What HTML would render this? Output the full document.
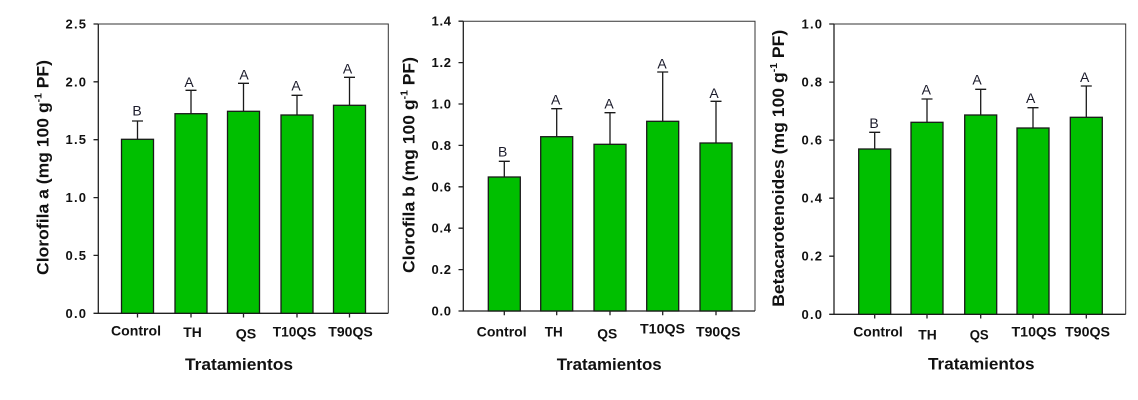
<!DOCTYPE html>
<html><head><meta charset="utf-8"><style>
html,body{margin:0;padding:0;background:#fff;}
svg{display:block;}
text{font-family:"Liberation Sans",Arial,sans-serif;fill:#111;}
.tk{font-size:13px;font-weight:bold;text-anchor:end;}
.xl{font-size:14px;font-weight:bold;text-anchor:middle;}
.tt{font-size:17px;font-weight:bold;text-anchor:middle;}
.lt{font-size:14px;text-anchor:middle;fill:#1a1a2a;}
.yt{font-size:17px;font-weight:bold;text-anchor:middle;}
.bar{fill:#00BF00;stroke:#1a1a1a;stroke-width:1.3;}
.ax{stroke:#222;stroke-width:1.3;fill:none;}
.fr{stroke:#333;stroke-width:1;fill:none;}
.eb{stroke:#1a1a1a;stroke-width:1.3;fill:none;}
</style></head><body>
<svg width="1138" height="400" viewBox="0 0 1138 400" xmlns="http://www.w3.org/2000/svg">
<!-- ============ Panel 1 ============ -->
<g>
<path class="fr" d="M98.3 24 H388.3 V313.3"/>
<path class="ax" d="M98.3 24 V313.3 H388.3"/>
<path class="ax" d="M93.5 313.3H98.3M93.5 255.4H98.3M93.5 197.6H98.3M93.5 139.7H98.3M93.5 81.8H98.3M93.5 24H98.3"/>
<text class="tk" x="86" y="317.8" textLength="20.5" lengthAdjust="spacing">0.0</text>
<text class="tk" x="86" y="259.9" textLength="20.5" lengthAdjust="spacing">0.5</text>
<text class="tk" x="86" y="202.1" textLength="20.5" lengthAdjust="spacing">1.0</text>
<text class="tk" x="86" y="144.2" textLength="20.5" lengthAdjust="spacing">1.5</text>
<text class="tk" x="86" y="86.3" textLength="20.5" lengthAdjust="spacing">2.0</text>
<text class="tk" x="86" y="28.5" textLength="20.5" lengthAdjust="spacing">2.5</text>
<rect class="bar" x="121.5" y="139.3" width="32" height="174"/>
<rect class="bar" x="175" y="113.7" width="32" height="199.6"/>
<rect class="bar" x="227.5" y="111.3" width="32" height="202"/>
<rect class="bar" x="281" y="115" width="32" height="198.3"/>
<rect class="bar" x="333.5" y="105.3" width="32" height="208"/>
<path class="eb" d="M137.5 139.3V121M132 121H143
M191 113.7V90.3M185.5 90.3H196.5
M243.5 111.3V83.3M238 83.3H249
M297 115V95.3M291.5 95.3H302.5
M349.5 105.3V77.3M344 77.3H355"/>
<path class="ax" d="M137.5 313.3V317.5M191 313.3V317.5M243.5 313.3V317.5M297 313.3V317.5M349.5 313.3V317.5"/>
<text class="lt" x="137" y="115.5">B</text>
<text class="lt" x="189" y="87">A</text>
<text class="lt" x="244" y="79.5">A</text>
<text class="lt" x="296" y="90.5">A</text>
<text class="lt" x="347.5" y="73.5">A</text>
<text class="xl" x="136" y="335.5" textLength="50" lengthAdjust="spacingAndGlyphs">Control</text>
<text class="xl" x="192.5" y="337" textLength="18.5" lengthAdjust="spacingAndGlyphs">TH</text>
<text class="xl" x="246" y="338.5" textLength="20.5" lengthAdjust="spacingAndGlyphs">QS</text>
<text class="xl" x="294.5" y="336.5" textLength="43.5" lengthAdjust="spacingAndGlyphs">T10QS</text>
<text class="xl" x="350.5" y="336.5" textLength="44.5" lengthAdjust="spacingAndGlyphs">T90QS</text>
<text class="tt" x="239" y="370" textLength="108" lengthAdjust="spacingAndGlyphs">Tratamientos</text>
<text class="yt" transform="translate(48.5 167.5) rotate(-90)" x="0" y="0" textLength="215" lengthAdjust="spacingAndGlyphs">Clorofila a (mg 100 g<tspan font-size="10" dy="-7">-1</tspan><tspan dy="7"> PF)</tspan></text>
</g>
<!-- ============ Panel 2 ============ -->
<g>
<path class="fr" d="M463.3 21.2 H755 V311"/>
<path class="ax" d="M463.3 21.2 V311 H755"/>
<path class="ax" d="M458.5 311H463.3M458.5 269.6H463.3M458.5 228.2H463.3M458.5 186.8H463.3M458.5 145.4H463.3M458.5 104H463.3M458.5 62.6H463.3M458.5 21.2H463.3"/>
<text class="tk" x="451" y="315.5" textLength="19.5" lengthAdjust="spacing">0.0</text>
<text class="tk" x="451" y="274.1" textLength="19.5" lengthAdjust="spacing">0.2</text>
<text class="tk" x="451" y="232.7" textLength="19.5" lengthAdjust="spacing">0.4</text>
<text class="tk" x="451" y="191.3" textLength="19.5" lengthAdjust="spacing">0.6</text>
<text class="tk" x="451" y="149.9" textLength="19.5" lengthAdjust="spacing">0.8</text>
<text class="tk" x="451" y="108.5" textLength="19.5" lengthAdjust="spacing">1.0</text>
<text class="tk" x="451" y="67.1" textLength="19.5" lengthAdjust="spacing">1.2</text>
<text class="tk" x="451" y="25.7" textLength="19.5" lengthAdjust="spacing">1.4</text>
<rect class="bar" x="488.3" y="177" width="32" height="134"/>
<rect class="bar" x="540.7" y="136.7" width="32" height="174.3"/>
<rect class="bar" x="594" y="144.3" width="32" height="166.7"/>
<rect class="bar" x="646.7" y="121.3" width="32" height="189.7"/>
<rect class="bar" x="700" y="143" width="32" height="168"/>
<path class="eb" d="M504.3 177V161.3M498.8 161.3H509.8
M556.7 136.7V108.7M551.2 108.7H562.2
M610 144.3V112.7M604.5 112.7H615.5
M662.7 121.3V72M657.2 72H668.2
M716 143V101.3M710.5 101.3H721.5"/>
<path class="ax" d="M504.3 311V315.2M556.7 311V315.2M610 311V315.2M662.7 311V315.2M716 311V315.2"/>
<text class="lt" x="502.7" y="156.5">B</text>
<text class="lt" x="555.7" y="104.5">A</text>
<text class="lt" x="609" y="108.5">A</text>
<text class="lt" x="662" y="68.5">A</text>
<text class="lt" x="714" y="98">A</text>
<text class="xl" x="501.7" y="336.5" textLength="50" lengthAdjust="spacingAndGlyphs">Control</text>
<text class="xl" x="553.8" y="336.5" textLength="18" lengthAdjust="spacingAndGlyphs">TH</text>
<text class="xl" x="607.3" y="338.5" textLength="20" lengthAdjust="spacingAndGlyphs">QS</text>
<text class="xl" x="662.5" y="333.5" textLength="45" lengthAdjust="spacingAndGlyphs">T10QS</text>
<text class="xl" x="718.3" y="336.5" textLength="44.5" lengthAdjust="spacingAndGlyphs">T90QS</text>
<text class="tt" x="609.2" y="370" textLength="105" lengthAdjust="spacingAndGlyphs">Tratamientos</text>
<text class="yt" transform="translate(414.3 165) rotate(-90)" x="0" y="0" textLength="216" lengthAdjust="spacingAndGlyphs">Clorofila b (mg 100 g<tspan font-size="10" dy="-7">-1</tspan><tspan dy="7"> PF)</tspan></text>
</g>
<!-- ============ Panel 3 ============ -->
<g>
<path class="fr" d="M834 24 H1125.7 V314.3"/>
<path class="ax" d="M834 24 V314.3 H1125.7"/>
<path class="ax" d="M829.2 314.3H834M829.2 256.2H834M829.2 198.2H834M829.2 140.1H834M829.2 82.1H834M829.2 24H834"/>
<text class="tk" x="822" y="318.8" textLength="20.5" lengthAdjust="spacing">0.0</text>
<text class="tk" x="822" y="260.7" textLength="20.5" lengthAdjust="spacing">0.2</text>
<text class="tk" x="822" y="202.7" textLength="20.5" lengthAdjust="spacing">0.4</text>
<text class="tk" x="822" y="144.6" textLength="20.5" lengthAdjust="spacing">0.6</text>
<text class="tk" x="822" y="86.6" textLength="20.5" lengthAdjust="spacing">0.8</text>
<text class="tk" x="822" y="28.5" textLength="20.5" lengthAdjust="spacing">1.0</text>
<rect class="bar" x="858.7" y="149" width="32" height="165.3"/>
<rect class="bar" x="911" y="122.3" width="32" height="192"/>
<rect class="bar" x="964.7" y="115" width="32" height="199.3"/>
<rect class="bar" x="1017" y="128" width="32" height="186.3"/>
<rect class="bar" x="1070.3" y="117.3" width="32" height="197"/>
<path class="eb" d="M874.7 149V132.3M869.2 132.3H880.2
M927 122.3V99M921.5 99H932.5
M980.7 115V89.3M975.2 89.3H986.2
M1033 128V107.7M1027.5 107.7H1038.5
M1086.3 117.3V86M1080.8 86H1091.8"/>
<path class="ax" d="M874.7 314.3V318.5M927 314.3V318.5M980.7 314.3V318.5M1033 314.3V318.5M1086.3 314.3V318.5"/>
<text class="lt" x="874" y="128">B</text>
<text class="lt" x="926.3" y="94.5">A</text>
<text class="lt" x="977" y="84.5">A</text>
<text class="lt" x="1030.7" y="103">A</text>
<text class="lt" x="1084.7" y="82">A</text>
<text class="xl" x="878" y="336.5" textLength="49.5" lengthAdjust="spacingAndGlyphs">Control</text>
<text class="xl" x="927.5" y="339.5" textLength="18.5" lengthAdjust="spacingAndGlyphs">TH</text>
<text class="xl" x="979.2" y="339.5" textLength="19" lengthAdjust="spacingAndGlyphs">QS</text>
<text class="xl" x="1034" y="336.5" textLength="45" lengthAdjust="spacingAndGlyphs">T10QS</text>
<text class="xl" x="1087.5" y="336.5" textLength="45" lengthAdjust="spacingAndGlyphs">T90QS</text>
<text class="tt" x="981.3" y="369.5" textLength="106.5" lengthAdjust="spacingAndGlyphs">Tratamientos</text>
<text class="yt" transform="translate(784 168.3) rotate(-90)" x="0" y="0" textLength="277" lengthAdjust="spacingAndGlyphs">Betacarotenoides (mg 100 g<tspan font-size="10" dy="-7">-1</tspan><tspan dy="7"> PF)</tspan></text>
</g>
</svg>
</body></html>
